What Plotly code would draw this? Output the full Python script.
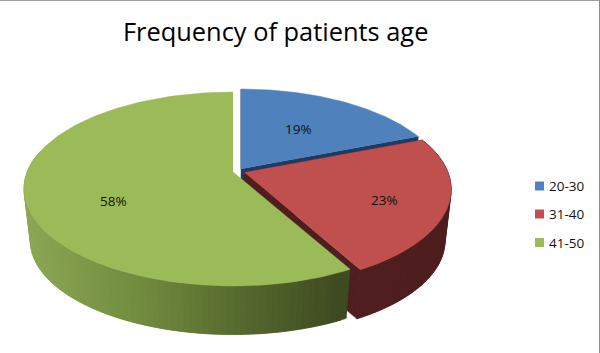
import numpy as np
import plotly.graph_objects as go

# ---- data ----
categories = ["20-30", "31-40", "41-50"]
percent = [19, 23, 58]
title_text = "Frequency of patients age"

# ---- style / projection ----
top_colors = ["#4F81BD", "#C0504D", "#9BBB59"]
wall_colors = ["#1F3A63", "#4E1F1E", "#3F4A20"]
apex = [(241, 169), (244.5, 172.5), (233, 172)]
radius = [203.0, 203.5, 205.8]
RK, P = 94.0, 0.175     # vertical radius, perspective
DEPTH, SHRINK = 52.0, 0.97
label_xy = [(298, 129), (384, 200), (113, 201)]
legend_x, legend_text_x, legend_y = 539.5, 546.5, [186, 214, 242.5]


def top(i, theta, f=1.0):
    a = apex[i]
    u, v = np.sin(theta) * f, np.cos(theta) * f
    w = 1 + P * v
    return a[0] + radius[i] * u / w, a[1] - RK * v / w


def bottom(i, theta, f=1.0):
    a = apex[i]
    x, y = top(i, theta, f)
    return a[0] + SHRINK * (x - a[0]), a[1] + DEPTH + SHRINK * (y - a[1])


def poly(fig, xs, ys, color):
    fig.add_trace(go.Scatter(x=list(xs), y=list(ys), mode="lines", fill="toself",
                             fillcolor=color, line=dict(color=color, width=0.5),
                             hoverinfo="skip", showlegend=False))


def lerp(stops, t):
    for (t0, c0), (t1, c1) in zip(stops, stops[1:]):
        if t <= t1:
            s = (t - t0) / (t1 - t0)
            return "rgb(%d,%d,%d)" % tuple(c0[i] + s * (c1[i] - c0[i]) for i in range(3))
    return "rgb(%d,%d,%d)" % stops[-1][1]


green_ramp = [(0.0, (141, 168, 85)), (0.35, (115, 141, 64)), (0.7, (84, 104, 46)), (1.0, (62, 74, 32))]

fig = go.Figure()
edges = np.cumsum([0] + percent) / sum(percent) * 2 * np.pi

for i in range(len(percent)):
    a, t0, t1 = apex[i], edges[i], edges[i + 1]
    th = np.linspace(t0, t1, 120)
    # cut walls
    for t in (t0, t1):
        if i == 2:
            continue
        x0, y0 = top(i, t)
        x1, y1 = bottom(i, t)
        bx, by = bottom(i, t, 0.0)
        poly(fig, [a[0], x0, x1, bx], [a[1], y0, y1, by], wall_colors[i])
    # outer wall, drawn as quads so the silhouette stays solid
    ws = np.linspace(t0, t1, 140 if i == 2 else 60)
    for k in range(len(ws) - 2, -1, -1):
        if i == 0 or (i == 2 and np.cos(ws[k]) > 0.2):
            continue
        ww = np.array([ws[k], ws[min(k + 2, len(ws) - 1)]])
        xt, yt = top(i, ww)
        xb, yb = bottom(i, ww)
        if i == 2:
            frac = (np.mean(xt) - 24) / (348 - 24)
            col = lerp(green_ramp, float(np.clip(frac, 0, 1)))
        else:
            col = wall_colors[i]
        poly(fig, [xt[0], xt[1], xb[1], xb[0]], [yt[0], yt[1], yb[1], yb[0]], col)
    # top face
    xt, yt = top(i, th)
    poly(fig, np.r_[a[0], xt], np.r_[a[1], yt], top_colors[i])

# legend swatches
fig.add_trace(go.Scatter(
    x=[legend_x] * len(categories), y=legend_y, mode="markers",
    marker=dict(symbol="square", size=9, color=top_colors),
    hoverinfo="skip", showlegend=False))
for c, y in zip(categories, legend_y):
    fig.add_annotation(x=legend_text_x, y=y, text=c, showarrow=False, xanchor="left",
                       font=dict(family="Open Sans", size=13.5, color="#111"))

for (x, y), p in zip(label_xy, percent):
    fig.add_annotation(x=x, y=y, text=f"{p}%", showarrow=False,
                       font=dict(family="Open Sans", size=13.5, color="#111"))

fig.add_annotation(x=275, y=31, text=title_text, showarrow=False,
                   font=dict(family="Open Sans", size=25.4, color="#000"))

fig.add_shape(type="line", x0=0, x1=600, y0=0.5, y1=0.5, line=dict(color="#A0A0A0", width=1))
fig.add_shape(type="line", x0=599.5, x1=599.5, y0=0, y1=353, line=dict(color="#8C8C8C", width=1))

fig.update_xaxes(range=[0, 600], visible=False, fixedrange=True)
fig.update_yaxes(range=[353, 0], visible=False, fixedrange=True)
fig.update_layout(width=600, height=353, margin=dict(l=0, r=0, t=0, b=0),
                  paper_bgcolor="white", plot_bgcolor="white", showlegend=False)

fig.write_html("out.html", config={"displayModeBar": False},
               post_script="document.body.style.margin='0';")
